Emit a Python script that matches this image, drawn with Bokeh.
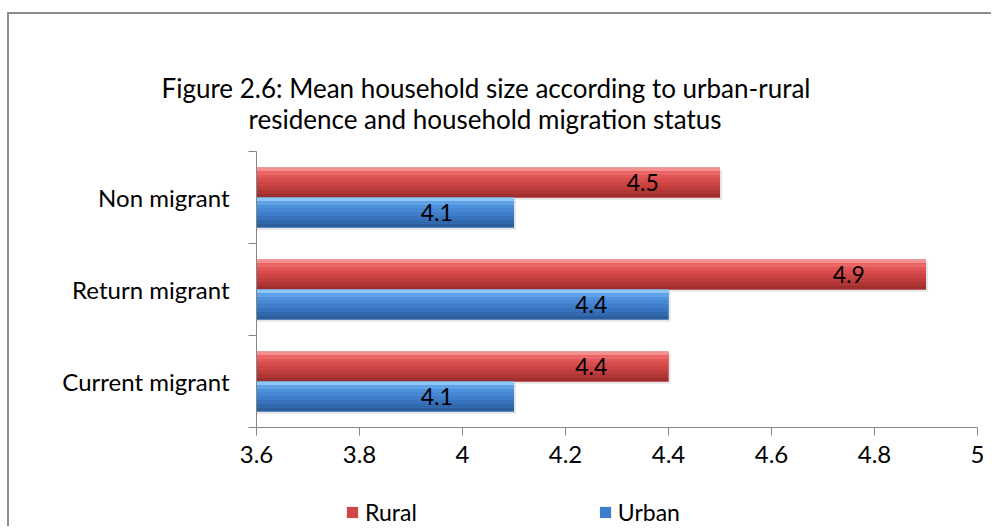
from bokeh.plotting import figure
from bokeh.layouts import column
from bokeh.models import (Range1d, FixedTicker, CustomJSTickFormatter, Title, Legend,
                          LegendItem, ColumnDataSource)
from bokeh.embed import file_html
from bokeh.resources import INLINE
from bokeh.core.properties import value

# ---- data ----
categories = ["Non migrant", "Return migrant", "Current migrant"]   # top to bottom
rural = [4.5, 4.9, 4.4]
urban = [4.1, 4.4, 4.1]
series_names = ["Rural", "Urban"]
x_ticks = [3.6, 3.8, 4.0, 4.2, 4.4, 4.6, 4.8, 5.0]
title_lines = ["Figure 2.6:  Mean household size according to urban-rural",
               "residence and household migration status"]

FONT = "Lato"
n = len(categories)
ypos = [n - i - 0.5 for i in range(n)]

p = figure(frame_width=719, frame_height=274, output_backend="svg", toolbar_location=None,
           x_range=Range1d(3.6, 5.0), y_range=Range1d(0, n),
           min_border_left=247, min_border_right=16, min_border_top=137,
           min_border_bottom=50)
p.margin = (12, 0, 0, 7)
p.styles = {"border-left": "2px solid #8c8c8c", "border-top": "2px solid #8c8c8c"}
p.outline_line_color = None
p.grid.visible = False
p.background_fill_color = "white"
p.border_fill_color = "white"

# x axis
xa = p.xaxis[0]
xa.ticker = FixedTicker(ticks=x_ticks)
xa.formatter = CustomJSTickFormatter(code="return tick.toFixed(1).replace(/\\.0$/, '')")
xa.axis_line_color = "#868686"
xa.major_tick_line_color = "#868686"
xa.major_tick_out = 8
xa.major_tick_in = 0
xa.minor_tick_line_color = None
xa.major_label_text_font = FONT
xa.major_label_text_font_size = "24px"
xa.major_label_text_color = "black"
xa.major_label_standoff = 10

# y axis: labels at category centres, tick marks at boundaries
ya = p.yaxis[0]
ya.ticker = FixedTicker(ticks=ypos, minor_ticks=list(range(n + 1)))
ya.major_label_overrides = {yv: c for yv, c in zip(ypos, categories)}
ya.axis_line_color = "#868686"
ya.major_tick_line_color = None
ya.minor_tick_line_color = "#868686"
ya.minor_tick_out = 8
ya.minor_tick_in = 0
ya.major_label_text_font = FONT
ya.major_label_text_font_size = "24px"
ya.major_label_text_color = "black"
ya.major_label_standoff = 19

bar_h = 0.326
off = bar_h / 2

styles = {
    "Rural": dict(mid="#cf4646", grad=["#f49090", "#ec6868", "#e05555", "#d64c4c",
                                        "#cb4444", "#bf3c3c", "#b03535", "#9e2f2f"]),
    "Urban": dict(mid="#3d7dcc", grad=["#8ec8f8", "#60a2e8", "#4f90dc", "#4686d3",
                                        "#3f7cc9", "#3872bc", "#3268ad", "#2c5d9d"]),
}

for name, vals, dy in [("Rural", rural, off), ("Urban", urban, -off)]:
    yc = [y + dy for y in ypos]
    src = ColumnDataSource(dict(y=yc, right=vals))
    # soft shadow
    p.hbar(y=[y - 0.025 for y in yc], left=3.6, right=[v + 0.004 for v in vals], height=bar_h,
           fill_color="#000000", fill_alpha=0.10, line_color=None)
    p.hbar(y="y", left=3.6, right="right", height=bar_h, source=src,
           fill_color=styles[name]["mid"], line_color=None)
    grad = styles[name]["grad"]
    k = len(grad)
    sh = bar_h / k
    for j, col in enumerate(grad):
        ys = [y + bar_h / 2 - sh * (j + 0.5) for y in yc]
        p.hbar(y=ys, left=3.6, right=vals, height=sh * 1.02, fill_color=col, line_color=None)

# value labels
label_offset = 0.15
for vals, dy in [(rural, off), (urban, -off)]:
    p.text(x=[v - label_offset for v in vals], y=[y + dy for y in ypos],
           text=[f"{v:.1f}" for v in vals], text_align="center", text_baseline="middle",
           text_font=value(FONT), text_font_size="23px", text_color="black")

# title (two lines, nearest-to-frame line added first)
p.add_layout(Title(text=title_lines[1], align="left", offset=-8, standoff=33,
                   text_font=FONT, text_font_size="26px", text_font_style="normal",
                   text_color="black"), "above")
p.add_layout(Title(text=title_lines[0], align="left", offset=-95, standoff=-38,
                   text_font=FONT, text_font_size="26px", text_font_style="normal",
                   text_color="black"), "above")

# ---- legend strip below the chart ----
p2 = figure(width=982, height=51, output_backend="svg", toolbar_location=None,
            x_range=Range1d(0, 1), y_range=Range1d(0, 1),
            x_axis_location=None, y_axis_location=None, min_border=0)
p2.margin = (0, 0, 0, 7)
p2.styles = {"border-left": "2px solid #8c8c8c"}
p2.outline_line_color = None
p2.grid.visible = False
p2.background_fill_color = "white"
p2.border_fill_color = "white"

legend_items = []
for name, vals in [("Rural", rural), ("Urban", urban)]:
    proxy = p2.hbar(y=[-5] * len(vals), left=0, right=vals, height=0.1,
                    fill_color=styles[name]["mid"], line_color=None)
    legend_items.append(LegendItem(label=name, renderers=[proxy]))

legend = Legend(items=legend_items, orientation="horizontal", location=(89, 0),
                spacing=181, glyph_width=14, glyph_height=14, label_standoff=6,
                padding=0, margin=0, border_line_color=None, background_fill_alpha=0,
                label_text_font=FONT, label_text_font_size="23px", label_text_color="black")
p2.add_layout(legend, "center")

layout = column(p, p2, spacing=0)
open("out.html", "w").write(file_html(layout, INLINE))
